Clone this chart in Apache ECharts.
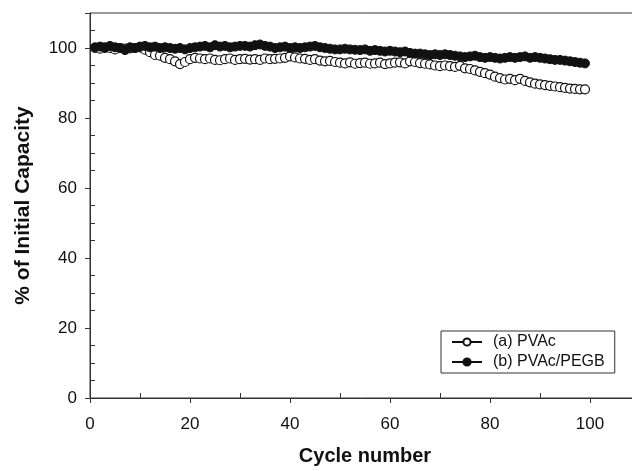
<!DOCTYPE html>
<html>
<head>
<meta charset="utf-8">
<script src="https://cdn.jsdelivr.net/npm/echarts@6/dist/echarts.min.js"></script>
<style>html,body{margin:0;padding:0;background:#fff}#c{width:632px;height:471px}</style>
</head>
<body>
<div id="c"></div>
<script>
var cycles = [];
for (var i = 1; i <= 99; i++) cycles.push(i);
var pvac = [
 100, 99.8, 100.2, 100, 99.6, 100, 99.8, 99.9, 100, 100.2,
 99.5, 98.8, 98, 97.8, 97.2, 96.8, 96.2, 95.4, 96, 96.8,
 97.2, 97, 96.8, 97, 96.6, 96.5, 96.8, 97, 96.6, 96.8,
 96.9, 96.7, 96.8, 96.6, 97, 96.8, 96.9, 97, 97.2, 97.6,
 97.3, 97, 96.9, 96.6, 96.8, 96.4, 96.2, 96.3, 96, 95.8,
 95.6, 95.9, 95.5, 95.7, 95.8, 95.5, 95.6, 95.8, 95.4, 95.6,
 95.8, 95.9, 95.6, 96.2, 96, 95.7, 95.5, 95.3, 95, 94.8,
 95, 94.8, 94.6, 94.9, 94.2, 94, 93.6, 93.2, 92.8, 92.4,
 91.8, 91.4, 91, 91.2, 90.8, 91.2, 90.6, 90.2, 89.8, 89.6,
 89.4, 89.2, 89, 88.8, 88.6, 88.4, 88.3, 88.2, 88.2
];
var pegb = [
 100.2, 100.4, 100, 100.6, 100.2, 100, 99.4, 100.2, 100, 100.4,
 100.6, 100.2, 100.4, 100, 100.2, 100, 99.8, 100, 99.6, 100,
 100.2, 100.4, 100.6, 100.2, 100.8, 100.4, 100.6, 100.2, 100.4, 100.6,
 100.6, 100.4, 100.8, 101, 100.6, 100.4, 100, 100.2, 100.4, 100,
 100.2, 100, 100.2, 100.4, 100.6, 100.2, 100, 99.8, 99.6, 99.6,
 99.8, 99.6, 99.5, 99.4, 99.6, 99.2, 99.4, 99.2, 99, 99.2,
 99, 98.8, 99, 98.6, 98.4, 98.4, 98.2, 98, 98.2, 98,
 98.2, 98, 97.8, 97.6, 97.4, 97.6, 97.8, 97.4, 97.2, 97.4,
 97.2, 97, 97.2, 97.4, 97.2, 97.4, 97.6, 97.2, 97.4, 97.2,
 97, 96.8, 96.6, 96.6, 96.4, 96.2, 96, 95.8, 95.6
];
var seriesNames = ['(a) PVAc', '(b) PVAc/PEGB'];

function pairs(xs, ys) { return xs.map(function (x, i) { return [x, ys[i]]; }); }

var axisColor = '#333';
var font = 'Liberation Sans, Arial, sans-serif';
var chart = echarts.init(document.getElementById('c'), null, {renderer: 'canvas'});
chart.setOption({
  animation: false,
  grid: {left: 90, top: 13, bottom: 73, width: 550, outerBoundsMode: 'none', containLabel: false,
         show: true, borderColor: axisColor, borderWidth: 1},
  legend: {
    data: seriesNames, orient: 'vertical', left: 441, top: 331,
    itemWidth: 30, itemHeight: 9, itemGap: 4,
    borderColor: axisColor, borderWidth: 1, padding: [3, 10, 3, 10], borderRadius: 0,
    textStyle: {fontFamily: font, fontSize: 16, color: '#111', padding: [0, 0, 0, 6]}
  },
  xAxis: [{
    type: 'value', min: 0, max: 110, interval: 20, position: 'bottom',
    name: 'Cycle number', nameLocation: 'middle', nameGap: 48,
    nameTextStyle: {fontFamily: font, fontSize: 20, fontWeight: 'bold', color: '#111'},
    axisLine: {lineStyle: {color: axisColor}}, splitLine: {show: false},
    axisTick: {inside: false, length: 5, lineStyle: {color: axisColor}},
    axisLabel: {fontFamily: font, fontSize: 17, color: '#111', margin: 18,
      formatter: function (v) { return v > 100 ? '' : v; }}
  }, {
    type: 'value', min: 0, max: 110, interval: 20, position: 'bottom', offset: 0,
    axisLine: {show: false}, splitLine: {show: false}, axisLabel: {show: false},
    axisTick: {show: false, inside: true},
    minorTick: {show: true, splitNumber: 2, length: 5, lineStyle: {color: axisColor}}
  }],
  yAxis: [{
    type: 'value', min: 0, max: 110, interval: 20, position: 'left',
    name: '% of Initial Capacity', nameLocation: 'middle', nameGap: 56,
    nameTextStyle: {fontFamily: font, fontSize: 21, fontWeight: 'bold', color: '#111'},
    axisLine: {show: true, lineStyle: {color: axisColor}}, splitLine: {show: false},
    axisTick: {show: true, inside: false, length: 5, lineStyle: {color: axisColor}},
    axisLabel: {fontFamily: font, fontSize: 17, color: '#111', margin: 13,
      formatter: function (v) { return v > 100 ? '' : v; }}
  }, {
    type: 'value', min: 0, max: 110, interval: 20, position: 'left', offset: 0,
    axisLine: {show: false}, splitLine: {show: false}, axisLabel: {show: false},
    axisTick: {show: false, inside: true},
    minorTick: {show: true, splitNumber: 4, length: 5, lineStyle: {color: axisColor}}
  }],
  series: [{
    name: seriesNames[0], type: 'line', data: pairs(cycles, pvac),
    symbol: 'circle', symbolSize: 9, showAllSymbol: true,
    lineStyle: {color: '#111', width: 1},
    itemStyle: {color: '#fff', borderColor: '#111', borderWidth: 1.2}
  }, {
    name: seriesNames[1], type: 'line', data: pairs(cycles, pegb),
    symbol: 'circle', symbolSize: 9, showAllSymbol: true,
    lineStyle: {color: '#111', width: 1},
    itemStyle: {color: '#111', borderColor: '#111', borderWidth: 1}
  }]
});
</script>
</body>
</html>
